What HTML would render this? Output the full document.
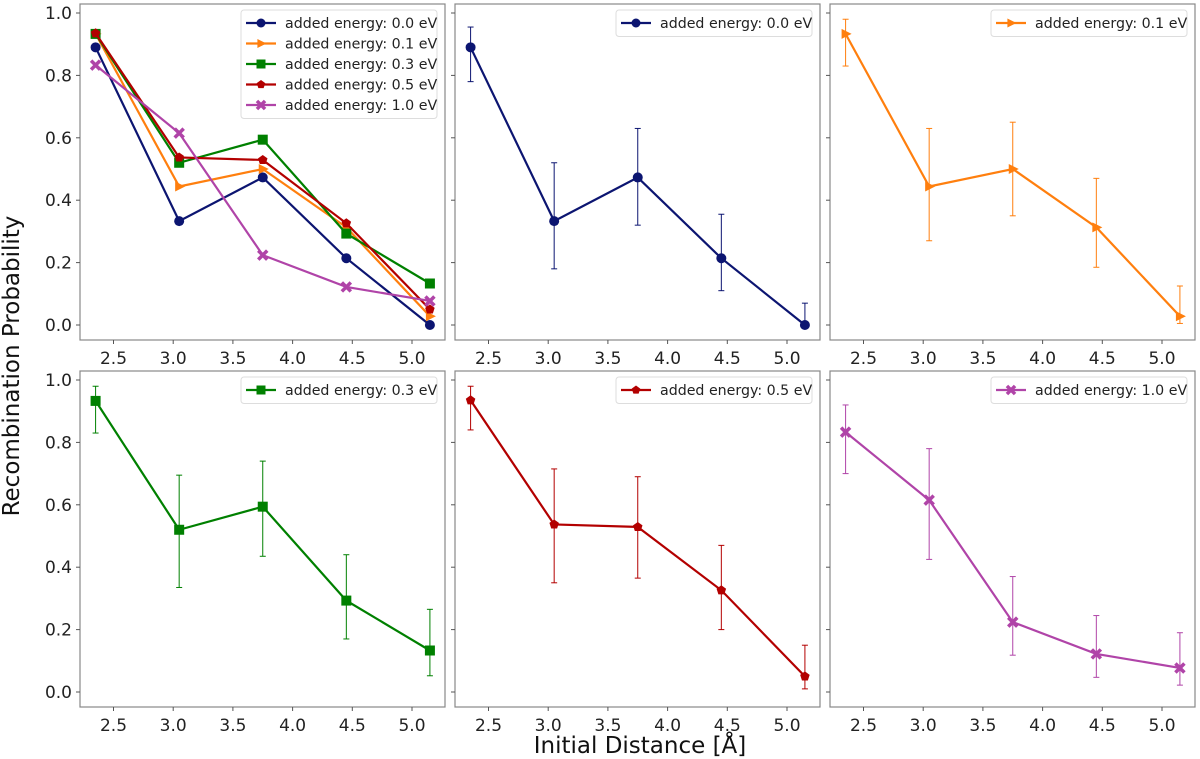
<!DOCTYPE html>
<html><head><meta charset="utf-8"><style>
body{margin:0;background:#fff;}
svg{display:block;font-family:"DejaVu Sans","Liberation Sans",sans-serif;}
</style></head><body>
<svg id="c" width="1200" height="759"></svg>
<script>
const xs=[2.35,3.05,3.75,4.45,5.15];
const labels=["added energy: 0.0 eV","added energy: 0.1 eV","added energy: 0.3 eV","added energy: 0.5 eV","added energy: 1.0 eV"];
const v0=[0.89,0.333,0.473,0.214,0.0];
const v1=[0.933,0.444,0.5,0.313,0.028];
const v3=[0.933,0.52,0.594,0.293,0.133];
const v5=[0.935,0.537,0.529,0.326,0.05];
const v10=[0.833,0.615,0.224,0.122,0.077];
const hi0=[0.955,0.52,0.63,0.355,0.07], lo0=[0.78,0.18,0.32,0.11,0.0];
const hi1=[0.98,0.63,0.65,0.47,0.125], lo1=[0.83,0.27,0.35,0.185,0.005];
const hi3=[0.98,0.695,0.74,0.44,0.265], lo3=[0.83,0.335,0.435,0.17,0.052];
const hi5=[0.98,0.715,0.69,0.47,0.15], lo5=[0.84,0.35,0.365,0.2,0.01];
const hi10=[0.92,0.78,0.37,0.245,0.19], lo10=[0.70,0.425,0.118,0.047,0.022];
const xticks=[2.5,3.0,3.5,4.0,4.5,5.0];
const yticks=[0.0,0.2,0.4,0.6,0.8,1.0];
const series=[
 {v:v0,hi:hi0,lo:lo0,c:"#0c1571",m:"circle",id:"0-0"},
 {v:v1,hi:hi1,lo:lo1,c:"#ff7f0e",m:"tri",id:"0-1"},
 {v:v3,hi:hi3,lo:lo3,c:"#008000",m:"square",id:"0-3"},
 {v:v5,hi:hi5,lo:lo5,c:"#b30000",m:"pent",id:"0-5"},
 {v:v10,hi:hi10,lo:lo10,c:"#b044a8",m:"x",id:"1-0"}];
const NS="http://www.w3.org/2000/svg";
const svg=document.getElementById('c');
function el(t,a,p){const e=document.createElementNS(NS,t);for(const k in a)e.setAttribute(k,a[k]);(p||svg).appendChild(e);return e;}
function marker(g,m,x,y,c,s){
 s=s||5;
 if(m==="circle") return el('circle',{cx:x,cy:y,r:s,fill:c},g);
 if(m==="square") return el('rect',{x:x-s,y:y-s,width:2*s,height:2*s,fill:c},g);
 if(m==="tri") return el('polygon',{points:`${x+s*1.2},${y} ${x-s*0.8},${y-s} ${x-s*0.8},${y+s}`,fill:c},g);
 if(m==="pent"){let p=[];for(let i=0;i<5;i++){const a=-Math.PI/2+i*2*Math.PI/5;p.push((x+s*Math.cos(a))+','+(y+s*Math.sin(a)));}return el('polygon',{points:p.join(' '),fill:c},g);}
 if(m==="x"){const q=s*0.9;return el('path',{d:`M${x-q},${y-q}L${x+q},${y+q}M${x-q},${y+q}L${x+q},${y-q}`,stroke:c,'stroke-width':3.5},g);}
}
const panels=[
 {x:80,y:4,sers:[0,1,2,3,4],err:false,ylab:true},
 {x:455,y:4,sers:[0],err:true},
 {x:830,y:4,sers:[1],err:true},
 {x:80,y:371,sers:[2],err:true,ylab:true},
 {x:455,y:371,sers:[3],err:true},
 {x:830,y:371,sers:[4],err:true}];
const W=365,H=336;
panels.forEach((p,pi)=>{
 const g=el('g',{});
 
 
 const sx=v=>p.x+33.5+(v-2.5)*119.4;
 const sy=v=>p.y+321-v*312;
 el('rect',{x:p.x,y:p.y,width:W,height:H,fill:'none',stroke:'#888','stroke-width':1.2},g);
 xticks.forEach(t=>{
  el('line',{x1:sx(t),x2:sx(t),y1:p.y+H,y2:p.y+H+4,stroke:'#555'},g);
  const tx=el('text',{x:sx(t),y:p.y+H+24,'font-size':17,'text-anchor':'middle',fill:'#222'},g);tx.textContent=t.toFixed(1);
  
  
 });
 yticks.forEach(t=>{
  el('line',{x1:p.x,x2:p.x-4,y1:sy(t),y2:sy(t),stroke:'#555'},g);
  if(p.ylab){const tx=el('text',{x:p.x-8,y:sy(t)+6,'font-size':17,'text-anchor':'end',fill:'#222'},g);tx.textContent=t.toFixed(1);
  
  }
 });
 p.sers.forEach(si=>{
  const s=series[si];
  const sg=el('g',{},g);
  
  
  if(p.err){s.v.forEach((v,i)=>{const x=sx(xs[i]);
   el('line',{x1:x,x2:x,y1:sy(s.lo[i]),y2:sy(s.hi[i]),stroke:s.c,'stroke-width':1},sg);
   el('line',{x1:x-3,x2:x+3,y1:sy(s.lo[i]),y2:sy(s.lo[i]),stroke:s.c,'stroke-width':1},sg);
   el('line',{x1:x-3,x2:x+3,y1:sy(s.hi[i]),y2:sy(s.hi[i]),stroke:s.c,'stroke-width':1},sg);});}
  el('polyline',{points:s.v.map((v,i)=>sx(xs[i])+','+sy(v)).join(' '),fill:'none',stroke:s.c,'stroke-width':2.2},sg);
  s.v.forEach((v,i)=>marker(sg,s.m,sx(xs[i]),sy(v),s.c,5));
 });
 const n=p.sers.length, lw=196, lh=n*20.5+6;
 const lx=p.x+W-lw-8, ly=p.y+6;
 const lg=el('g',{},g);
 
 
 el('rect',{x:lx,y:ly,width:lw,height:lh,rx:3,fill:'#fff',stroke:'#ddd'},lg);
 p.sers.forEach((si,k)=>{const s=series[si];const yy=ly+13+k*20.5;
  el('line',{x1:lx+5,x2:lx+35,y1:yy,y2:yy,stroke:s.c,'stroke-width':2.2},lg);
  marker(lg,s.m,lx+20,yy,s.c,4.5);
  const t=el('text',{x:lx+44,y:yy+5,'font-size':14.2,fill:'#222'},lg);t.textContent=labels[si];
  
  
 });
});
const yl=el('text',{x:0,y:0,'font-size':23,'text-anchor':'middle',fill:'#111',transform:'translate(19,366) rotate(-90)'});
yl.textContent='Recombination Probability';


const xl=el('text',{x:640,y:753,'font-size':23,'text-anchor':'middle',fill:'#111'});
xl.textContent='Initial Distance [Å]';


</script>
</body></html>
